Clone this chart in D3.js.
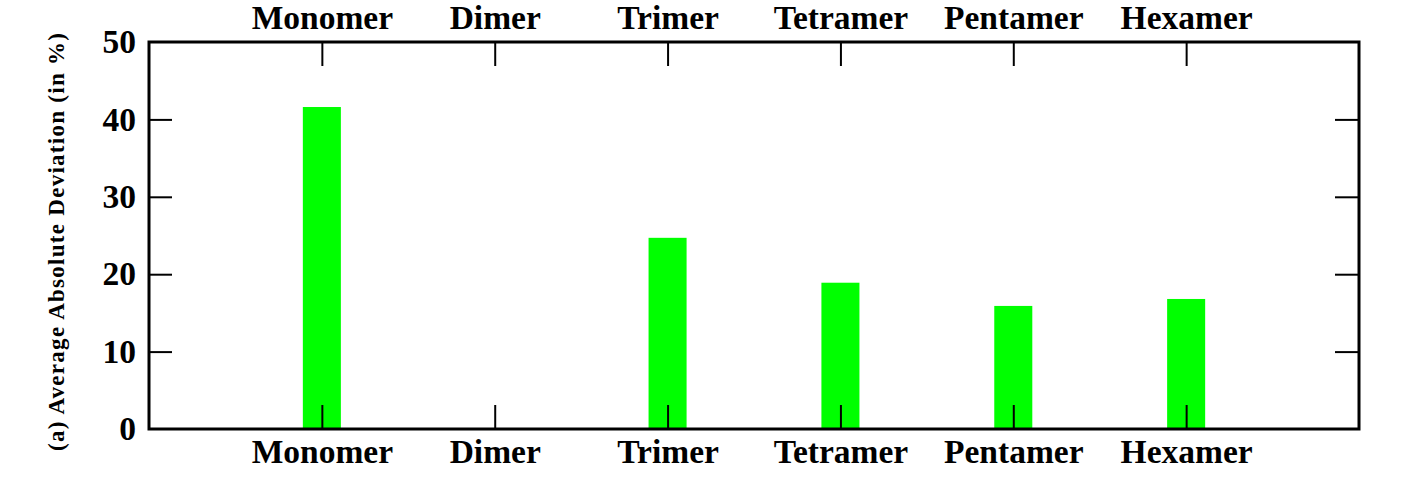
<!DOCTYPE html>
<html>
<head>
<meta charset="utf-8">
<script src="https://cdn.jsdelivr.net/npm/d3@7/dist/d3.min.js"></script>
<style>
html,body{margin:0;padding:0;background:#fff;}
svg{display:block;}
</style>
</head>
<body>
<svg id="chart" width="1419" height="486"></svg>
<script>
const categories = ["Monomer","Dimer","Trimer","Tetramer","Pentamer","Hexamer"];
const values = [41.6, null, 24.7, 18.9, 15.9, 16.8];
const yTicks = [0,10,20,30,40,50];
const yLabel = "(a) Average Absolute Deviation (in %)";

const svg = d3.select("#chart");
const mLeft = 149, mRight = 1359, mTop = 42, mBottom = 429;

const x = d3.scaleLinear().domain([0, categories.length + 1]).range([mLeft, mRight]);
const y = d3.scaleLinear().domain([0, 50]).range([mBottom, mTop]);
const pos = categories.map((c,i)=>i+1);
const barW = 0.22;

// bars
svg.append("g").selectAll("rect")
  .data(categories.map((c,i)=>({c, v: values[i], p: pos[i]})).filter(d=>d.v!=null))
  .join("rect")
  .attr("x", d=>x(d.p - barW/2))
  .attr("width", d=>x(d.p + barW/2) - x(d.p - barW/2))
  .attr("y", d=>y(d.v))
  .attr("height", d=>y(0) - y(d.v))
  .attr("fill", "#00ff00");

const font = '"Liberation Serif","Times New Roman",serif';

function styleAxis(g, size){
  g.select(".domain").remove();
  g.selectAll(".tick line").attr("stroke","#000").attr("stroke-width",2);
  g.selectAll(".tick text").attr("font-size", size).attr("font-family", font).attr("font-weight","bold").attr("fill","#000");
}

// bottom axis
const gB = svg.append("g").attr("transform",`translate(0,${mBottom})`)
  .call(d3.axisBottom(x).tickValues(pos).tickFormat((d,i)=>categories[i]).tickSize(-24).tickPadding(10));
styleAxis(gB, 33.5);

// top axis
const gT = svg.append("g").attr("transform",`translate(0,${mTop})`)
  .call(d3.axisTop(x).tickValues(pos).tickFormat((d,i)=>categories[i]).tickSize(-24).tickPadding(13));
styleAxis(gT, 33.5);

// left axis
const gL = svg.append("g").attr("transform",`translate(${mLeft},0)`)
  .call(d3.axisLeft(y).tickValues(yTicks).tickFormat(d3.format("d")).tickSize(-23).tickPadding(13));
styleAxis(gL, 33.5);
gL.selectAll(".tick").filter(d=>d===0||d===50).select("line").remove();

// right axis
const gR = svg.append("g").attr("transform",`translate(${mRight},0)`)
  .call(d3.axisRight(y).tickValues(yTicks).tickFormat("").tickSize(-24));
styleAxis(gR, 33.5);
gR.selectAll(".tick").filter(d=>d===0||d===50).select("line").remove();

// frame
svg.append("rect")
  .attr("x", mLeft).attr("y", mTop)
  .attr("width", mRight-mLeft).attr("height", mBottom-mTop)
  .attr("fill","none").attr("stroke","#000").attr("stroke-width",3);

// y label
svg.append("text")
  .attr("transform", `translate(64,${(32+452)/2}) rotate(-90)`)
  .attr("text-anchor","middle")
  .attr("font-family", font).attr("font-weight","bold")
  .attr("font-size", 23)
  .attr("textLength", 418).attr("lengthAdjust","spacing")
  .text(yLabel);
</script>
</body>
</html>
